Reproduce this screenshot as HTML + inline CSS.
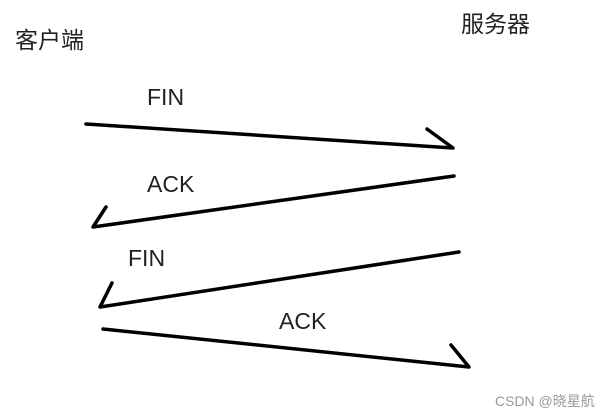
<!DOCTYPE html>
<html><head><meta charset="utf-8"><style>
html,body{margin:0;padding:0;background:#fff;}
body{width:609px;height:420px;position:relative;overflow:hidden;font-family:"Liberation Sans","Noto Sans CJK SC",sans-serif;}
.t{position:absolute;color:#222;font-size:23px;line-height:1;white-space:nowrap;}
</style></head><body>
<svg width="609" height="420" style="position:absolute;left:0;top:0" fill="none" stroke="#000" stroke-width="3.5" stroke-linecap="round" stroke-linejoin="round">
<polyline points="86,124 453,148 427,129"/>
<polyline points="454,176 93,227 106,207"/>
<polyline points="459,252 100,307 112,283"/>
<polyline points="103,329 469,367 451,345"/>
</svg>
<div class="t" style="left:15px;top:29px;">客户端</div>
<div class="t" style="left:461px;top:13px;">服务器</div>
<div class="t" style="left:147px;top:86px;">FIN</div>
<div class="t" style="left:147px;top:173px;">ACK</div>
<div class="t" style="left:128px;top:247px;">FIN</div>
<div class="t" style="left:279px;top:310px;">ACK</div>
<div class="t" style="left:495px;top:394px;font-size:14px;color:#999;">CSDN @晓星航</div>
</body></html>
